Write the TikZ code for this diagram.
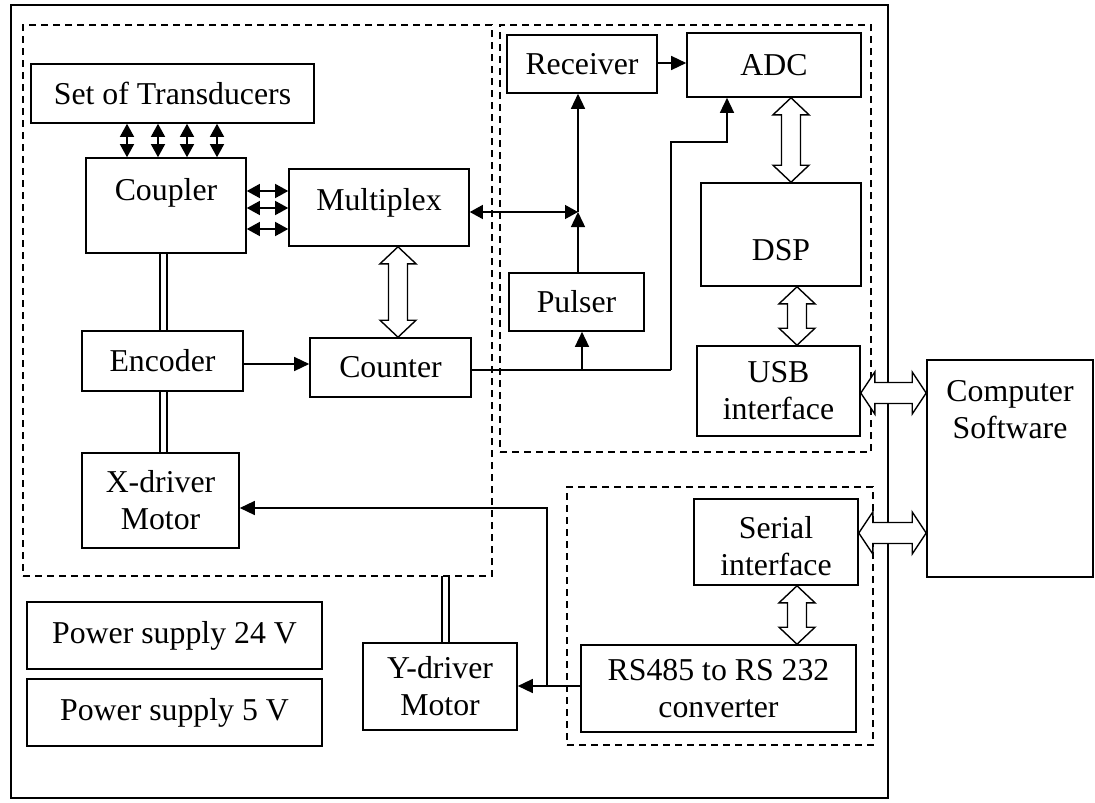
\documentclass[tikz,border=0pt]{standalone}
\usepackage{fontspec}
\setmainfont{Liberation Serif}
\usetikzlibrary{arrows.meta,calc}
\tikzset{
  box/.style={draw, line width=1.6pt, inner sep=0pt, align=center},
  dbox/.style={draw, line width=1.4pt, dash pattern=on 7pt off 5pt},
  txt/.style={inner sep=0pt, align=center},
  conn/.style={line width=1.4pt},
  arr/.style={conn, -{Triangle[length=15pt,width=14pt]}},
  darr/.style={conn, {Triangle[length=13pt,width=14pt]}-{Triangle[length=13pt,width=14pt]}},
  harrow/.style={line width=1.4pt, fill=white, line join=miter},
}
\newcommand\hollowV[3]{%
  \draw[harrow] let \p1=(#2), \p2=(#3) in
  (#1pt,\y1) -- (#1pt+18pt,\y1-17pt) -- (#1pt+9.5pt,\y1-17pt) -- (#1pt+9.5pt,\y2+17pt)
  -- (#1pt+18pt,\y2+17pt) -- (#1pt,\y2) -- (#1pt-18pt,\y2+17pt) -- (#1pt-9.5pt,\y2+17pt)
  -- (#1pt-9.5pt,\y1-17pt) -- (#1pt-18pt,\y1-17pt) -- cycle;}
\newcommand\hollowH[3]{%
  \draw[harrow] let \p1=(#2), \p2=(#3) in
  (\x1,-#1pt) -- (\x1+14pt,-#1pt+21pt) -- (\x1+14pt,-#1pt+10.5pt) -- (\x2-14pt,-#1pt+10.5pt)
  -- (\x2-14pt,-#1pt+21pt) -- (\x2,-#1pt) -- (\x2-14pt,-#1pt-21pt) -- (\x2-14pt,-#1pt-10.5pt)
  -- (\x1+14pt,-#1pt-10.5pt) -- (\x1+14pt,-#1pt-21pt) -- cycle;}
\begin{document}
\begin{tikzpicture}[x=1pt,y=-1pt,font=\fontsize{31.8}{37}\selectfont]
\useasboundingbox (0,0) rectangle (1095,803);
% frames
\node[box, minimum width=877, minimum height=793] (outer) at (449.5,401.5) {};
\node[dbox, minimum width=469, minimum height=551] (leftdash) at (257.5,300.5) {};
\node[dbox, minimum width=371, minimum height=427] (rtdash) at (685.5,238.5) {};
\node[dbox, minimum width=306, minimum height=258] (brdash) at (720,616) {};
% blocks
\node[box, minimum width=283, minimum height=59] (trans) at (172.5,93.5) {Set of Transducers};
\node[box, minimum width=160, minimum height=95] (coupler) at (166,205.5) {};
\node[txt] (couplert) at ([yshift=12.5pt]coupler.center) {Coupler};
\node[box, minimum width=180, minimum height=77] (multiplex) at (379,207.5) {};
\node[txt] (multiplext) at ([yshift=5pt]multiplex.center) {Multiplex};
\node[box, minimum width=150, minimum height=58] (receiver) at (582,64) {Receiver};
\node[box, minimum width=174, minimum height=64] (adc) at (774,65) {ADC};
\node[box, minimum width=160, minimum height=103] (dsp) at (781,234.5) {};
\node[txt] (dspt) at ([yshift=-16pt]dsp.center) {DSP};
\node[box, minimum width=135, minimum height=58] (pulser) at (576.5,302) {Pulser};
\node[box, minimum width=163, minimum height=90] (usb) at (778.5,391) {USB\\interface};
\node[box, minimum width=161, minimum height=60] (encoder) at (162.5,361) {Encoder};
\node[box, minimum width=161, minimum height=59] (counter) at (390.5,367.5) {Counter};
\node[box, minimum width=157, minimum height=95] (xdrv) at (160.5,500.5) {X-driver\\Motor};
\node[box, minimum width=154, minimum height=87] (ydrv) at (440,686.5) {Y-driver\\Motor};
\node[box, minimum width=295, minimum height=67] (ps24) at (174.5,635.5) {Power supply 24 V};
\node[box, minimum width=295, minimum height=67] (ps5) at (174.5,712.5) {Power supply 5 V};
\node[box, minimum width=164, minimum height=86] (serial) at (776,542) {};
\node[txt] (serialt) at ([yshift=-4pt]serial.center) {Serial\\interface};
\node[box, minimum width=275, minimum height=87] (rs) at (718.5,688.5) {RS485 to RS 232\\converter};
\node[box, minimum width=166, minimum height=217] (comp) at (1010,468.5) {};
\node[txt] (compt) at ([yshift=59pt]comp.center) {Computer\\Software};
% transducer <-> coupler
\foreach \xx in {127,158,187,217}
  \draw[darr] (\xx,0 |- trans.south) -- (\xx,0 |- coupler.north);
% coupler <-> multiplex
\foreach \yy in {191,208,229}
  \draw[darr] (coupler.east |- 0,\yy) -- (multiplex.west |- 0,\yy);
% shafts
\draw[conn] (160,0 |- coupler.south) -- (160,0 |- encoder.north);
\draw[conn] (167,0 |- coupler.south) -- (167,0 |- encoder.north);
\draw[conn] (160,0 |- encoder.south) -- (160,0 |- xdrv.north);
\draw[conn] (167,0 |- encoder.south) -- (167,0 |- xdrv.north);
\draw[conn, fill=white] (442,0 |- leftdash.south) rectangle (449,0 |- ydrv.north);
% encoder -> counter
\draw[arr] (encoder.east |- 0,364) -- (counter.west |- 0,364);
% counter -> pulser / adc
\coordinate (cj) at (582,370);
\coordinate (ck) at (671,370);
\draw[conn] (counter.east |- cj) -- (ck);
\draw[arr] (ck) -- (671,142) -- (727,142) -- (727,0 |- adc.south);
\draw[arr] (cj) -- (cj |- pulser.south);
% pulser / multiplex / receiver
\coordinate (j) at (578,212);
\draw[arr] (j |- pulser.north) -- (j);
\draw[arr] (j) -- (j |- receiver.south);
\draw[darr] (multiplex.east |- j) -- (j);
\draw[arr] (receiver.east |- 0,63) -- (adc.west |- 0,63);
% motors
\coordinate (m) at (547,686);
\draw[arr] (rs.west |- m) -- (ydrv.east |- m);
\draw[arr] (m) -- (547,508) -- (xdrv.east |- 0,508);
% hollow arrows
\hollowV{791}{adc.south}{dsp.north}
\hollowV{797}{dsp.south}{usb.north}
\hollowV{398}{multiplex.south}{counter.north}
\hollowV{797}{serial.south}{rs.north}
\hollowH{393}{usb.east}{comp.west}
\hollowH{533}{serial.east}{comp.west}
\end{tikzpicture}
\end{document}
